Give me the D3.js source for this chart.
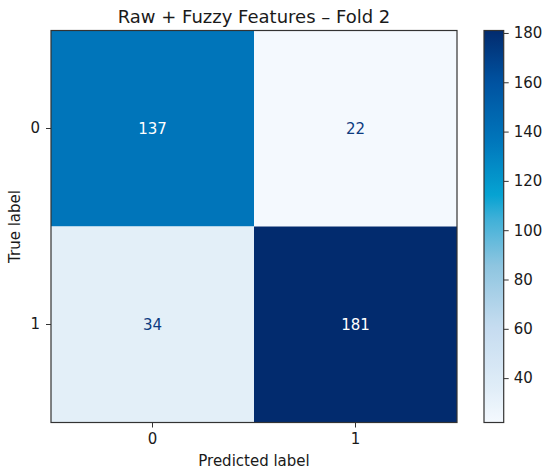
<!DOCTYPE html>
<html><head><meta charset="utf-8">
<script src="https://cdn.jsdelivr.net/npm/d3@7"></script>
<style>body{margin:0;background:#fff}text{font-family:"DejaVu Sans",sans-serif;fill:#1a1a1a}</style>
</head><body><svg id="c" width="550" height="474"></svg>
<script>
const title = "Raw + Fuzzy Features – Fold 2";
const classes = ["0", "1"];
const trueRow0 = [137, 22];
const trueRow1 = [34, 181];
const colorbarTicks = [40, 60, 80, 100, 120, 140, 160, 180];
const xLabel = "Predicted label";
const yLabel = "True label";

const matrix = [trueRow0, trueRow1];
const flat = matrix.flat();
const vmin = d3.min(flat), vmax = d3.max(flat);

const svg = d3.select("#c");
const L = 51, T = 30.5, R = 457, B = 422.5;
const x = d3.scaleBand().domain(classes).range([L, R]);
const y = d3.scaleBand().domain(classes).range([T, B]);

// saturated Blues ramp as seen in the picture
const stops = [
  [0.00, "#f4f9fe"], [0.08, "#e2eef8"], [0.25, "#c4dbef"], [0.40, "#8ec5e0"],
  [0.52, "#3fb0d8"], [0.58, "#06a3d2"], [0.72, "#0076bb"], [0.87, "#0052a0"], [1.00, "#022b6e"]
];
const ramp = d3.scaleLinear().domain(stops.map(s => s[0])).range(stops.map(s => s[1])).interpolate(d3.interpolateRgb);
const norm = d3.scaleLinear().domain([vmin, vmax]).range([0, 1]);
const color = v => ramp(norm(v));

const cells = [];
matrix.forEach((row, i) => row.forEach((v, j) => cells.push({r: classes[i], c: classes[j], v})));

svg.selectAll("rect.cell").data(cells).join("rect").attr("class", "cell")
  .attr("x", d => x(d.c)).attr("y", d => y(d.r))
  .attr("width", x.bandwidth()).attr("height", y.bandwidth())
  .attr("fill", d => color(d.v));

const mid = (vmin + vmax) / 2;
svg.selectAll("text.val").data(cells).join("text").attr("class", "val")
  .attr("x", d => x(d.c) + x.bandwidth() / 2).attr("y", d => y(d.r) + y.bandwidth() / 2)
  .attr("text-anchor", "middle").attr("dy", "0.36em").attr("font-size", 15)
  .style("fill", d => d.v > mid ? "#ffffff" : "#0d3b80")
  .text(d => d.v);

svg.append("rect").attr("x", L).attr("y", T).attr("width", R - L).attr("height", B - T)
  .attr("fill", "none").attr("stroke", "#333").attr("stroke-width", 1.2);

const xAxis = svg.append("g").attr("transform", `translate(0,${B})`)
  .call(d3.axisBottom(x).tickSize(5).tickPadding(6));
const yAxis = svg.append("g").attr("transform", `translate(${L},0)`)
  .call(d3.axisLeft(y).tickSize(5).tickPadding(6));
[xAxis, yAxis].forEach(g => {
  g.select(".domain").remove();
  g.selectAll("line").attr("stroke", "#333").attr("stroke-width", 1);
  g.selectAll("text").attr("font-size", 15).style("font-family", "DejaVu Sans").style("fill", "#1a1a1a");
});

svg.append("text").attr("x", (L + R) / 2).attr("y", 466).attr("text-anchor", "middle")
  .attr("font-size", 15).text(xLabel);
svg.append("text").attr("transform", `translate(20,${(T + B) / 2}) rotate(-90)`)
  .attr("text-anchor", "middle").attr("font-size", 15).text(yLabel);
svg.append("text").attr("x", (L + R) / 2).attr("y", 22.5).attr("text-anchor", "middle")
  .attr("font-size", 18).text(title);

// colorbar
const cbL = 484, cbR = 503.7;
const cy = d3.scaleLinear().domain([vmin, vmax]).range([B, T]);
const defs = svg.append("defs");
const grad = defs.append("linearGradient").attr("id", "cbg").attr("x1", 0).attr("y1", 1).attr("x2", 0).attr("y2", 0);
d3.range(0, 1.0001, 0.02).forEach(t => grad.append("stop").attr("offset", t).attr("stop-color", ramp(t)));
svg.append("rect").attr("x", cbL).attr("y", T).attr("width", cbR - cbL).attr("height", B - T)
  .attr("fill", "url(#cbg)").attr("stroke", "#333").attr("stroke-width", 1.2);
const cAxis = svg.append("g").attr("transform", `translate(${cbR},0)`)
  .call(d3.axisRight(cy).tickValues(colorbarTicks).tickSize(5).tickPadding(5));
cAxis.select(".domain").remove();
cAxis.selectAll("line").attr("stroke", "#333");
cAxis.selectAll("text").attr("font-size", 15).style("font-family", "DejaVu Sans").style("fill", "#1a1a1a");
</script></body></html>
